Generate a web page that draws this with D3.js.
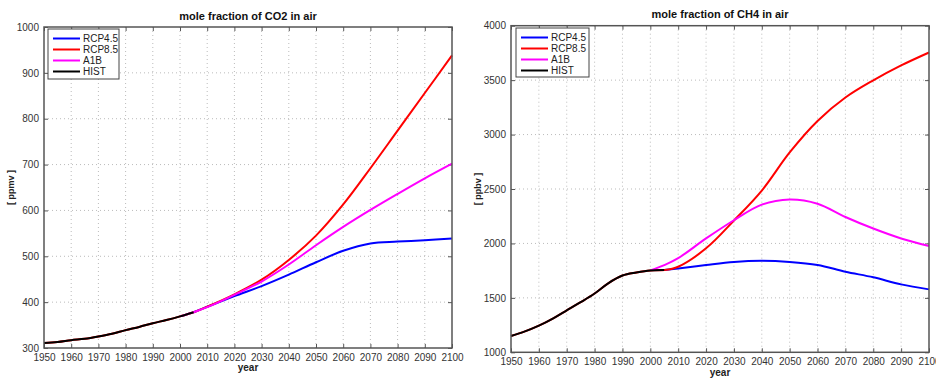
<!DOCTYPE html>
<html><head><meta charset="utf-8">
<script src="https://cdn.jsdelivr.net/npm/d3@7"></script>
<style>
body{margin:0;background:#fff;}
svg text{font-family:"Liberation Sans",Arial,sans-serif;}
</style></head>
<body><svg id="c" width="936" height="378"></svg>
<script>
// ---- data ----
const histYears = [1950,1955,1960,1965,1970,1975,1980,1985,1990,1995,2000,2005];
const futYears  = [2005,2010,2020,2030,2040,2050,2060,2070,2080,2090,2100];
const a1bYears  = [2000,2005,2010,2020,2030,2040,2050,2060,2070,2080,2090,2100];

const co2Hist  = [311,313,317,320,325,331,339,346,354,361,369,378];
const co2Rcp45 = [378,390,413,435,460,487,512,528,532,535,539];
const co2Rcp85 = [378,390,417,449,492,545,613,692,774,856,938];
const co2A1b   = [369,378,389,416,445,482,524,564,601,636,670,702];

const ch4Hist  = [1150,1192,1245,1310,1385,1460,1540,1636,1705,1733,1752,1755];
const ch4Rcp45 = [1755,1770,1802,1830,1840,1830,1802,1740,1689,1624,1578];
const ch4Rcp85 = [1755,1786,1955,2210,2486,2836,3125,3340,3498,3635,3754];
const ch4A1b   = [1752,1801,1865,2046,2213,2356,2404,2365,2243,2137,2046,1976];

const xTicks = [1950,1960,1970,1980,1990,2000,2010,2020,2030,2040,2050,2060,2070,2080,2090,2100];
const co2YTicks = [300,400,500,600,700,800,900,1000];
const ch4YTicks = [1000,1500,2000,2500,3000,3500,4000];
const seriesNames = ["RCP4.5","RCP8.5","A1B","HIST"];
const seriesColors = ["#0000ff","#ff0000","#ff00ff","#000000"];

const zip = (xs, ys) => xs.map((x,i)=>({x, y: ys[i]}));

const panels = [
  {title:"mole fraction of CO2 in air", ylabel:"[ ppmv ]", box:{l:44,r:452,t:27,b:348},
   ydom:[300,1000], yticks:co2YTicks, titleY:20, xlabY:371, ylabX:14, legend:{x:48,y:29,w:71,h:50},
   series:[zip(futYears,co2Rcp45), zip(histYears.concat(futYears.slice(1)), co2Hist.concat(co2Rcp85.slice(1))), zip(a1bYears,co2A1b), zip(histYears,co2Hist)]},
  {title:"mole fraction of CH4 in air", ylabel:"[ ppbv ]", box:{l:511,r:929,t:25.7,b:352.3},
   ydom:[1000,4000], yticks:ch4YTicks, titleY:18, xlabY:376, ylabX:481, legend:{x:516,y:28,w:73,h:49},
   series:[zip(futYears,ch4Rcp45), zip(histYears.concat(futYears.slice(1)), ch4Hist.concat(ch4Rcp85.slice(1))), zip(a1bYears,ch4A1b), zip(histYears,ch4Hist)]}
];

const svg = d3.select("#c");
panels.forEach((p,pi)=>{
  const b = p.box;
  const x = d3.scaleLinear().domain([1950,2100]).range([b.l,b.r]);
  const y = d3.scaleLinear().domain(p.ydom).range([b.b,b.t]);
  const g = svg.append("g");
  // grid
  g.selectAll(".gx").data(xTicks.slice(1,-1)).join("line")
    .attr("x1",d=>x(d)).attr("x2",d=>x(d)).attr("y1",b.t).attr("y2",b.b)
    .attr("stroke","#bbb").attr("stroke-width",1).attr("stroke-dasharray","1,3");
  g.selectAll(".gy").data(p.yticks.slice(1,-1)).join("line")
    .attr("x1",b.l).attr("x2",b.r).attr("y1",d=>y(d)).attr("y2",d=>y(d))
    .attr("stroke","#bbb").attr("stroke-width",1).attr("stroke-dasharray","1,3");
  // axes
  const xa = g.append("g").attr("transform",`translate(0,${b.b})`)
    .call(d3.axisBottom(x).tickValues(xTicks).tickFormat(d3.format("d")).tickSize(-4).tickPadding(6));
  const xa2 = g.append("g").attr("transform",`translate(0,${b.t})`)
    .call(d3.axisTop(x).tickValues(xTicks).tickFormat("").tickSize(-4));
  const ya = g.append("g").attr("transform",`translate(${b.l},0)`)
    .call(d3.axisLeft(y).tickValues(p.yticks).tickFormat(d3.format("d")).tickSize(-4).tickPadding(5));
  const ya2 = g.append("g").attr("transform",`translate(${b.r},0)`)
    .call(d3.axisRight(y).tickValues(p.yticks).tickFormat("").tickSize(-4));
  [xa,xa2,ya,ya2].forEach(a=>{
    a.select(".domain").remove();
    a.selectAll("line").attr("stroke","#555");
    a.selectAll("text").attr("fill","#333").style("font-size","10px");
  });
  // lines
  const line = d3.line().x(d=>x(d.x)).y(d=>y(d.y)).curve(d3.curveCatmullRom.alpha(0.5));
  p.series.forEach((s,i)=>{
    g.append("path").datum(s).attr("d",line).attr("fill","none")
      .attr("stroke",seriesColors[i]).attr("stroke-width",2);
  });
  // frame
  g.append("rect").attr("x",b.l).attr("y",b.t).attr("width",b.r-b.l).attr("height",b.b-b.t)
    .attr("fill","none").attr("stroke","#555").attr("stroke-width",1.5);
  // titles
  g.append("text").attr("x",(b.l+b.r)/2).attr("y",p.titleY).attr("text-anchor","middle")
    .style("font-size","11px").style("font-weight","bold").attr("fill","#111").text(p.title);
  g.append("text").attr("x",(b.l+b.r)/2).attr("y",p.xlabY).attr("text-anchor","middle")
    .style("font-size","10px").style("font-weight","bold").attr("fill","#222").text("year");
  g.append("text").attr("transform",`translate(${p.ylabX},${(b.t+b.b)/2}) rotate(-90)`)
    .attr("text-anchor","middle").style("font-size","9px").style("font-weight","bold").attr("fill","#222").text(p.ylabel);
  // legend
  const L = p.legend;
  const lg = g.append("g");
  lg.append("rect").attr("x",L.x).attr("y",L.y).attr("width",L.w).attr("height",L.h)
    .attr("fill","#fff").attr("stroke","#444").attr("stroke-width",1);
  seriesNames.forEach((n,i)=>{
    const yy = L.y + 9.5 + i*11;
    lg.append("line").attr("x1",L.x+5).attr("x2",L.x+32).attr("y1",yy).attr("y2",yy)
      .attr("stroke",seriesColors[i]).attr("stroke-width",2);
    lg.append("text").attr("x",L.x+35).attr("y",yy+3.5).style("font-size","10px").attr("fill","#222").text(n);
  });
});
</script></body></html>
